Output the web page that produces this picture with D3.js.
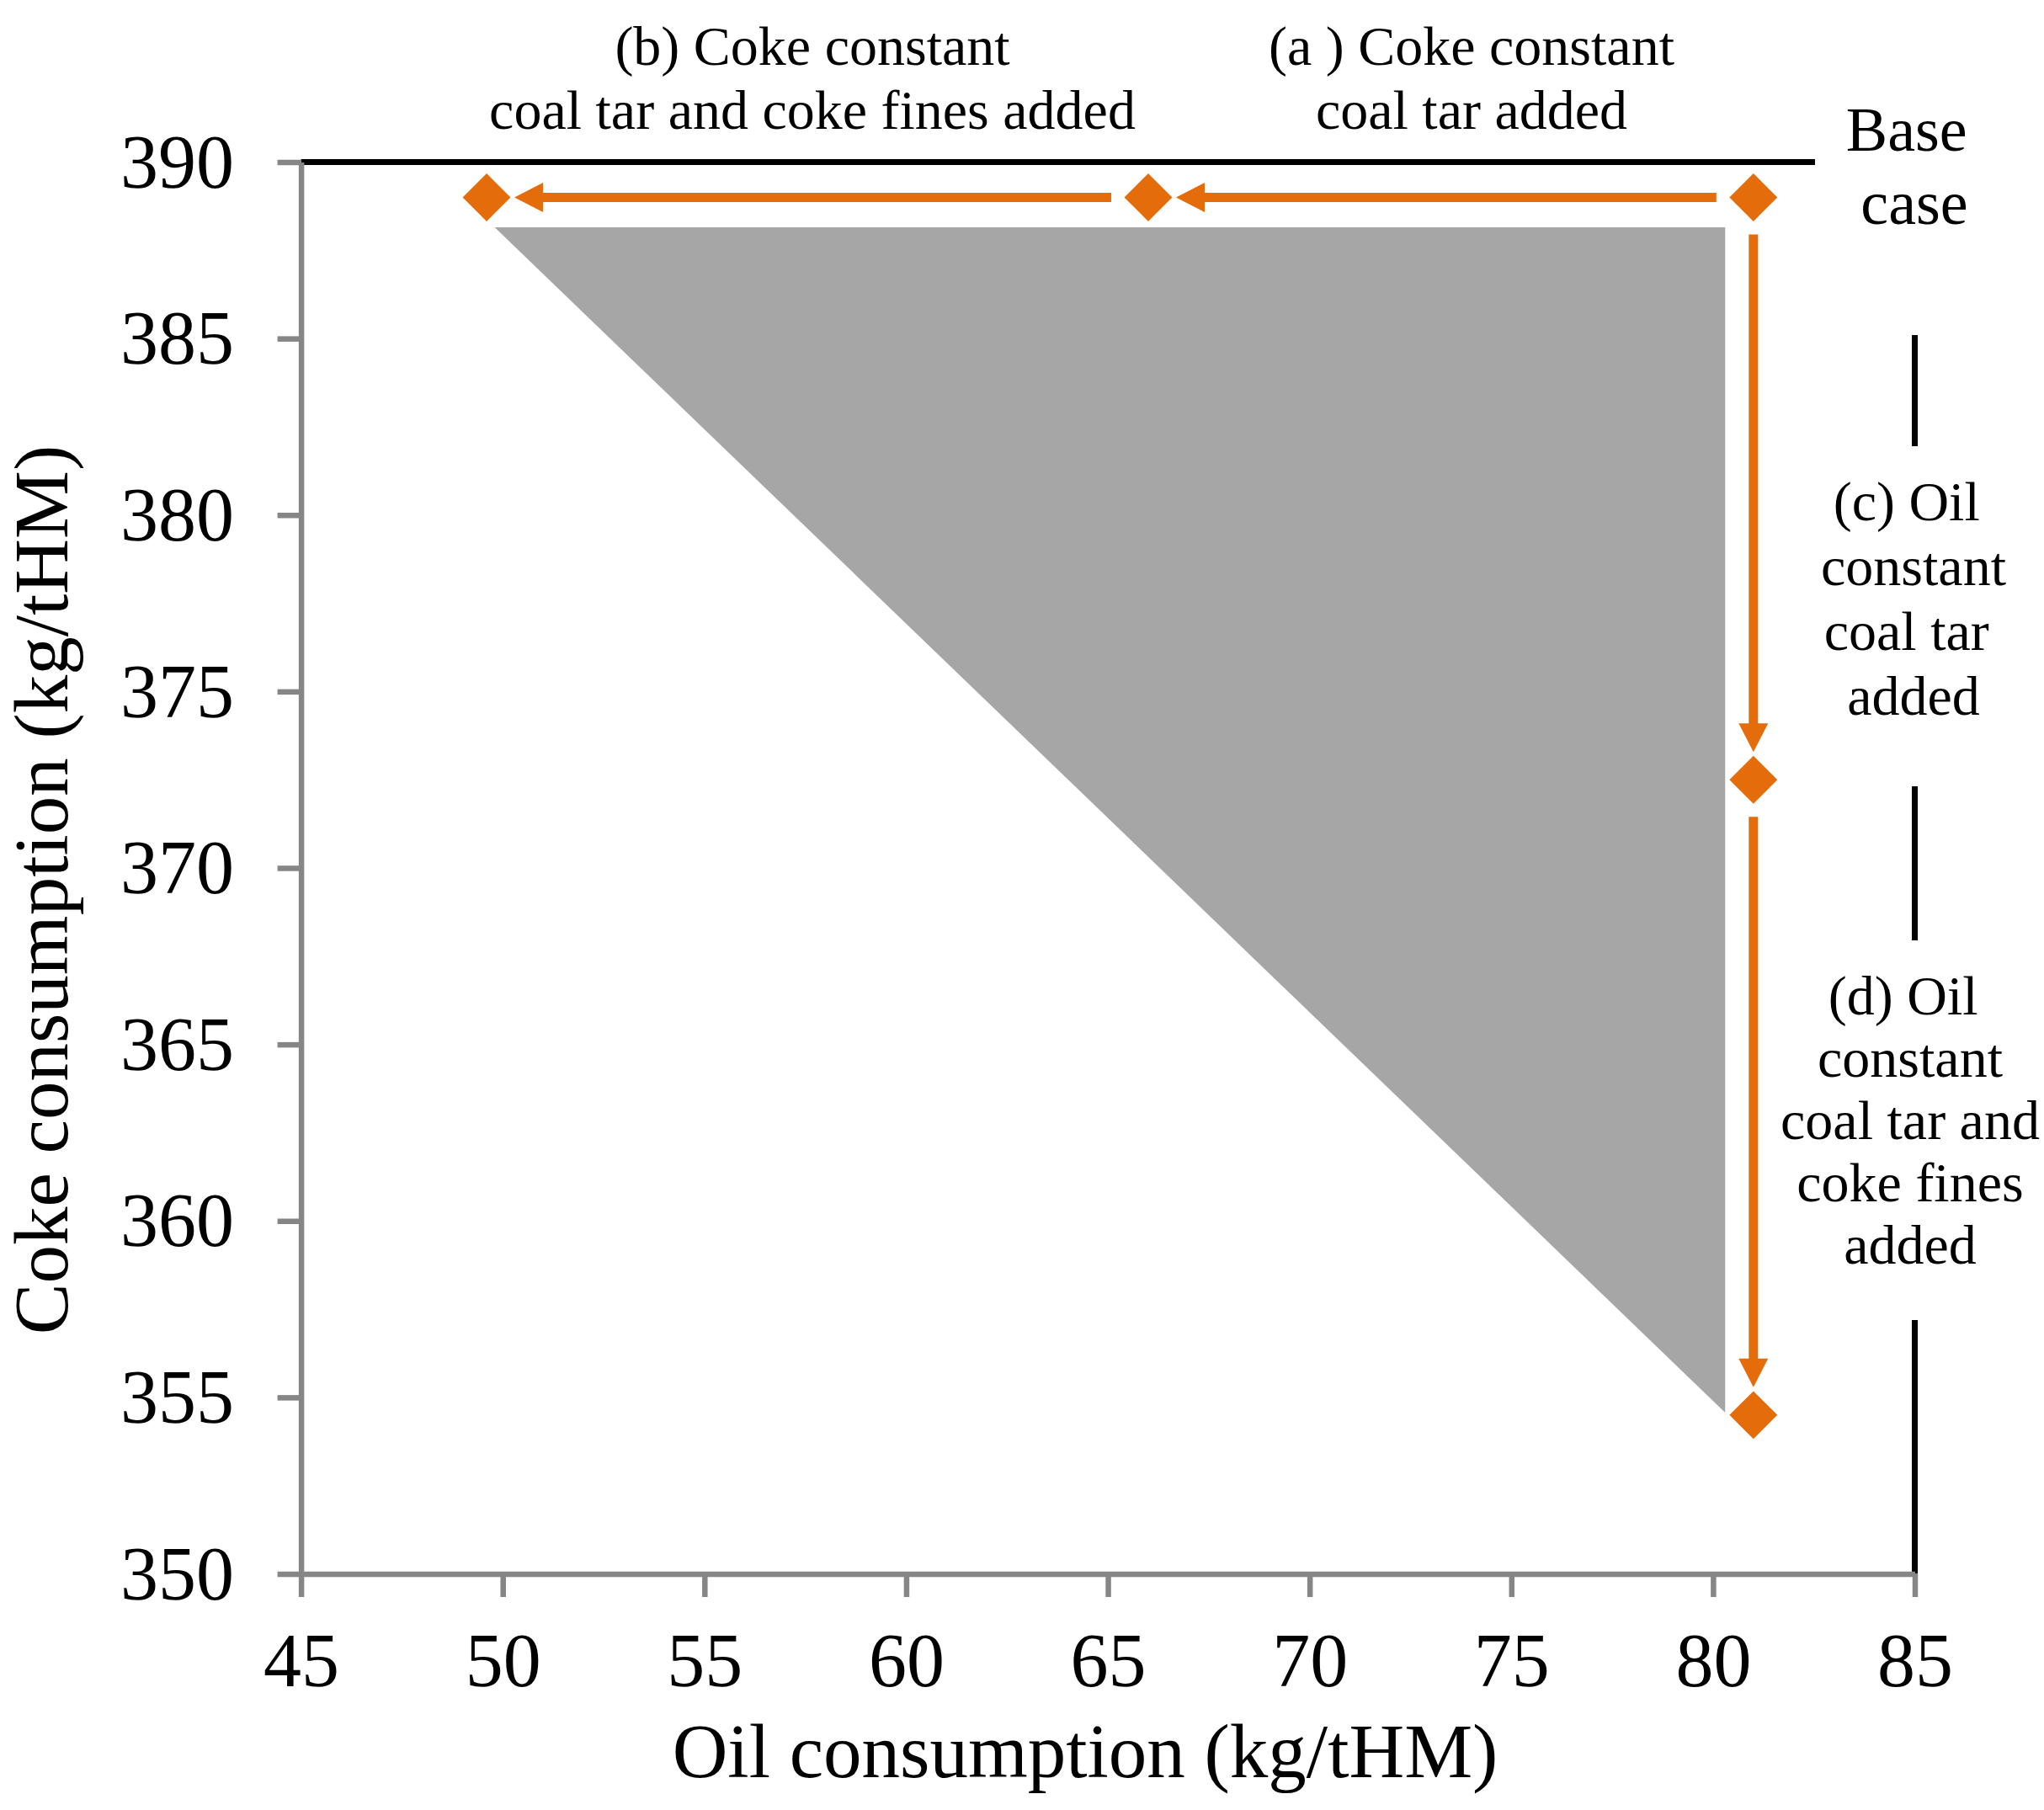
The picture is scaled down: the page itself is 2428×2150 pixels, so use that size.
<!DOCTYPE html>
<html>
<head>
<meta charset="utf-8">
<script src="https://cdn.jsdelivr.net/npm/d3@7"></script>
<style>
  body { margin: 0; background: #fff; }
  text { font-family: "Liberation Serif", "Times New Roman", serif; fill: #000; }
</style>
</head>
<body>
<div id="chart"></div>
<script>
// axis ticks
const oilTicks = [45, 50, 55, 60, 65, 70, 75, 80, 85];
const cokeTicks = [350, 355, 360, 365, 370, 375, 380, 385, 390];

// scenario points (base case, a, b, c, d)
const pointNames = ['Base case', '(a)', '(b)', '(c)', '(d)'];
const pointOil = [81, 66, 49.6, 81, 81];
const pointCoke = [389, 389, 389, 372.5, 354.5];

// arrows between the points, by index
const arrowFrom = [0, 1, 0, 3];
const arrowTo = [1, 2, 3, 4];

// grey region
const regionOil = [49.8, 80.3, 80.3];
const regionCoke = [388.15, 388.15, 354.57];

// black frame line (top and right)
const frameOil = [45, 85, 85];
const frameCoke = [390, 390, 350];

// annotation texts
const labelB = ['(b) Coke constant', 'coal tar and coke fines added'];
const labelA = ['(a ) Coke constant', 'coal tar added'];
const labelBase = ['Base ', 'case'];
const labelC = ['(c) Oil ', 'constant', 'coal tar ', 'added'];
const labelD = ['(d) Oil ', 'constant', 'coal tar and', 'coke fines', 'added'];

const width = 2428;
const height = 2150;
const orange = '#e46c0a';
const axisGrey = '#868686';

const x = d3.scaleLinear().domain([45, 85]).range([357.6, 2274.5]);
const y = d3.scaleLinear().domain([350, 390]).range([1869.5, 192.5]);

const svg = d3.select('#chart')
  .append('svg')
  .attr('width', width)
  .attr('height', height)
  .style('display', 'block');

svg.append('rect')
  .attr('width', width)
  .attr('height', height)
  .attr('fill', '#fff');

// grey region
svg.append('path')
  .datum(d3.range(regionOil.length))
  .attr('d', d3.line().x(i => x(regionOil[i])).y(i => y(regionCoke[i])).curve(d3.curveLinearClosed))
  .attr('fill', '#a6a6a6');

// black frame
svg.append('path')
  .datum(d3.range(frameOil.length))
  .attr('d', d3.line().x(i => x(frameOil[i])).y(i => y(frameCoke[i])))
  .attr('fill', 'none')
  .attr('stroke', '#000')
  .attr('stroke-width', 7);

// axes
const xAxis = svg.append('g')
  .attr('transform', `translate(0,${y(350)})`)
  .call(d3.axisBottom(x).tickValues(oilTicks).tickSize(27.5).tickSizeOuter(0));

const yAxis = svg.append('g')
  .attr('transform', `translate(${x(45)},0)`)
  .call(d3.axisLeft(y).tickValues(cokeTicks).tickSize(28).tickSizeOuter(0));

[xAxis, yAxis].forEach(g => {
  g.select('.domain').attr('stroke', axisGrey).attr('stroke-width', 6.5);
  g.selectAll('.tick line').attr('stroke', axisGrey).attr('stroke-width', 6.5);
  g.selectAll('.tick text')
    .attr('fill', '#000')
    .style('font-family', '"Liberation Serif", serif')
    .style('font-size', '90px');
});

xAxis.selectAll('.tick text').attr('y', 133.5).attr('dy', 0);
yAxis.selectAll('.tick text').attr('x', -79.6).attr('dy', '0.33em');

// axis titles
svg.append('text')
  .attr('x', 1289)
  .attr('y', 2111)
  .attr('text-anchor', 'middle')
  .style('font-size', '91px')
  .text('Oil consumption (kg/tHM)');

svg.append('text')
  .attr('transform', 'translate(80,1057) rotate(-90)')
  .attr('text-anchor', 'middle')
  .style('font-size', '91px')
  .text('Coke consumption (kg/tHM)');

// annotation boxes (white boxes hide the frame line where they sit)
const notes = [
  {lines: labelB, cx: 965, y0: 77, lh: 76, size: 66},
  {lines: labelA, cx: 1748, y0: 77, lh: 76, size: 66},
  {lines: labelBase, cx: 2274, y0: 179, lh: 87, size: 74, box: [2156, 100, 2394, 398]},
  {lines: labelC, cx: 2273, y0: 617.5, lh: 77, size: 66, box: [2140, 530, 2410, 934]},
  {lines: labelD, cx: 2269, y0: 1205, lh: 74, size: 66, box: [2110, 1117, 2428, 1568]}
];

notes.forEach(n => {
  if (n.box) {
    svg.append('rect')
      .attr('x', n.box[0])
      .attr('y', n.box[1])
      .attr('width', n.box[2] - n.box[0])
      .attr('height', n.box[3] - n.box[1])
      .attr('fill', '#fff');
  }
  const t = svg.append('text')
    .attr('text-anchor', 'middle')
    .attr('xml:space', 'preserve')
    .style('white-space', 'pre')
    .style('font-size', n.size + 'px');
  t.selectAll('tspan')
    .data(n.lines)
    .enter().append('tspan')
      .attr('x', n.cx)
      .attr('y', (d, i) => n.y0 + i * n.lh)
      .text(d => d);
});

// arrows
const startGap = 44;
const tipGap = 33;
const headLen = 34;
const headHalf = 17.5;

const arrows = svg.append('g').attr('class', 'arrows');
arrowFrom.forEach((f, k) => {
  const t = arrowTo[k];
  const x0 = x(pointOil[f]), y0 = y(pointCoke[f]);
  const x1 = x(pointOil[t]), y1 = y(pointCoke[t]);
  const len = Math.hypot(x1 - x0, y1 - y0);
  const ux = (x1 - x0) / len, uy = (y1 - y0) / len;
  const sx = x0 + ux * startGap, sy = y0 + uy * startGap;
  const tx = x1 - ux * tipGap, ty = y1 - uy * tipGap;
  const bx = tx - ux * headLen, by = ty - uy * headLen;

  arrows.append('line')
    .attr('x1', sx).attr('y1', sy)
    .attr('x2', bx + ux * 2).attr('y2', by + uy * 2)
    .attr('stroke', orange)
    .attr('stroke-width', 11);

  arrows.append('path')
    .attr('d', `M${tx},${ty}L${bx - uy * headHalf},${by + ux * headHalf}L${bx + uy * headHalf},${by - ux * headHalf}Z`)
    .attr('fill', orange);
});

// points
svg.append('g')
  .selectAll('path')
  .data(pointNames)
  .enter().append('path')
    .attr('d', d3.symbol(d3.symbolSquare, 1620))
    .attr('transform', (d, i) => `translate(${x(pointOil[i])},${y(pointCoke[i])}) rotate(45)`)
    .attr('fill', orange);
</script>
</body>
</html>
